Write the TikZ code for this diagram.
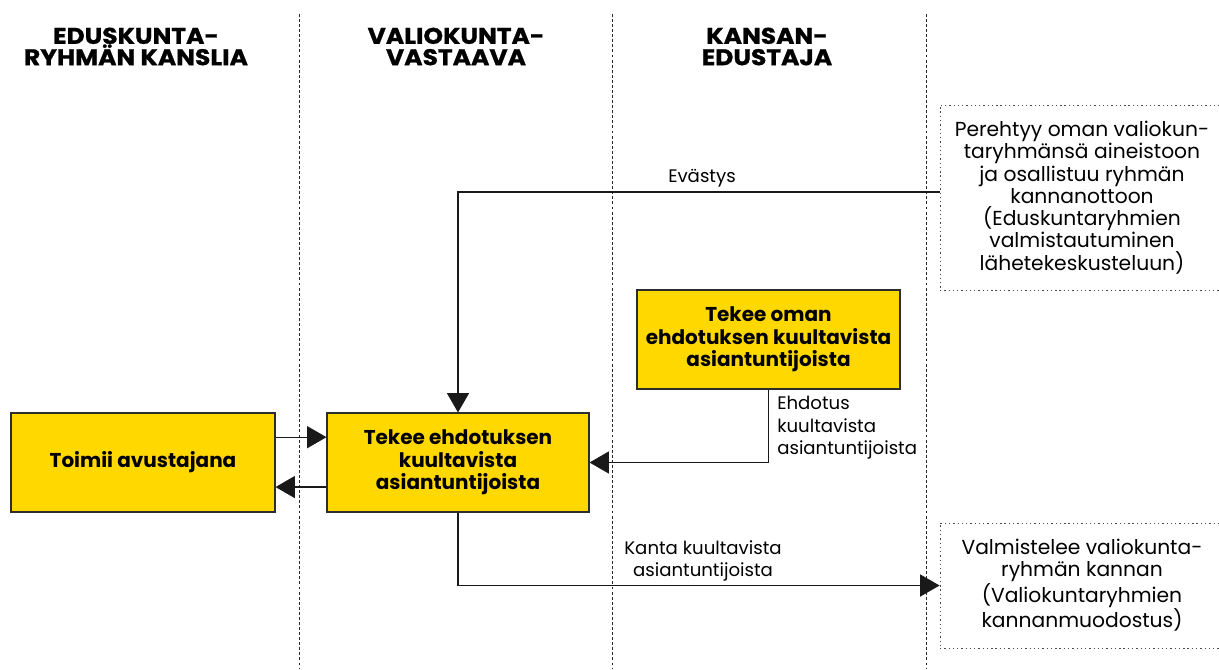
\documentclass[tikz,border=0pt]{standalone}
\usepackage{fontspec}
\setmainfont{Poppins}
\newfontfamily\headfont{Poppins}[FakeStretch=1.1,FakeBold=1]
\usetikzlibrary{arrows.meta}

\definecolor{taskfill}{RGB}{255,216,0}
\definecolor{taskedge}{RGB}{45,45,45}

\begin{document}
\begin{tikzpicture}[x=0.75pt,y=-0.75pt,
  lane/.style={line width=0.6pt, black!85, dash pattern=on 2.2pt off 1.6pt},
  task/.style={draw=taskedge, fill=taskfill, line width=0.8pt, align=center,
    inner sep=0pt, font=\bfseries\fontsize{15}{16.9}\selectfont},
  note/.style={draw=black!70, line width=0.7pt, dash pattern=on 1pt off 2.2pt,
    align=center, inner sep=0pt, font=\fontsize{15.2}{16.7}\selectfont},
  head/.style={align=center, font=\headfont\bfseries\fontsize{17}{16}\selectfont},
  lbl/.style={font=\fontsize{13.6}{16.9}\selectfont, inner sep=0pt},
  flow/.style={draw=black!90, line width=0.9pt,
    -{Triangle[length=14.5pt,width=16.5pt]}}
]
\useasboundingbox (0,0) rectangle (1219,669);

% swimlane separators
\foreach \lx/\nm in {299/l1, 612/l2, 926/l3}
  \draw[lane] (\lx,14) coordinate (\nm top) -- (\lx,669) coordinate (\nm bot);

% lane headings
\node[head] (h1) at (136,46.5) {EDUSKUNTA-\\RYHMÄN KANSLIA};
\node[head] (h2) at (456,46.5) {VALIOKUNTA-\\VASTAAVA};
\node[head] (h3) at (767,46.5) {KANSAN-\\EDUSTAJA};

% tasks
\node[task, minimum width=198pt, minimum height=74.25pt] (toimii) at (143,462.5)
  {Toimii avustajana};
\node[task, minimum width=196.5pt, minimum height=74.25pt] (tekee) at (458,462.5)
  {Tekee ehdotuksen\\kuultavista\\asiantuntijoista};
\node[task, minimum width=197.25pt, minimum height=74.25pt] (oman) at (768.5,339.5)
  {Tekee oman\\ehdotuksen kuultavista\\asiantuntijoista};

% representative's notes
\node[note, minimum width=213pt, minimum height=138.75pt] (pere) at (1082,197.5)
  {Perehtyy oman valiokun-\\taryhmänsä aineistoon\\ja osallistuu ryhmän\\kannanottoon\\(Eduskuntaryhmien\\valmistautuminen\\lähetekeskusteluun)};
\node[note, minimum width=213pt, minimum height=93.75pt] (valm) at (1082,585.5)
  {Valmistelee valiokunta-\\ryhmän kannan\\(Valiokuntaryhmien\\kannanmuodostus)};

% flows
\draw[flow] ([yshift=4.1pt]pere.west) -| (tekee.north);
\node[lbl] (evastys) at (702,178) {Evästys};

\draw[flow] ([yshift=19pt]toimii.east) -- ([yshift=19pt]tekee.west);
\draw[flow] ([yshift=-18.4pt]tekee.west) -- ([yshift=-18.4pt]toimii.east);

\draw[flow] (oman.south) |- (tekee.east);
\node[lbl, align=left, anchor=north west] (ehd) at (777,396)
  {Ehdotus\\kuultavista\\asiantuntijoista};

\draw[flow] (tekee.south) |- (valm.west);
\node[lbl, align=center] (kanta) at (703,561)
  {Kanta kuultavista\\asiantuntijoista};
\end{tikzpicture}
\end{document}
